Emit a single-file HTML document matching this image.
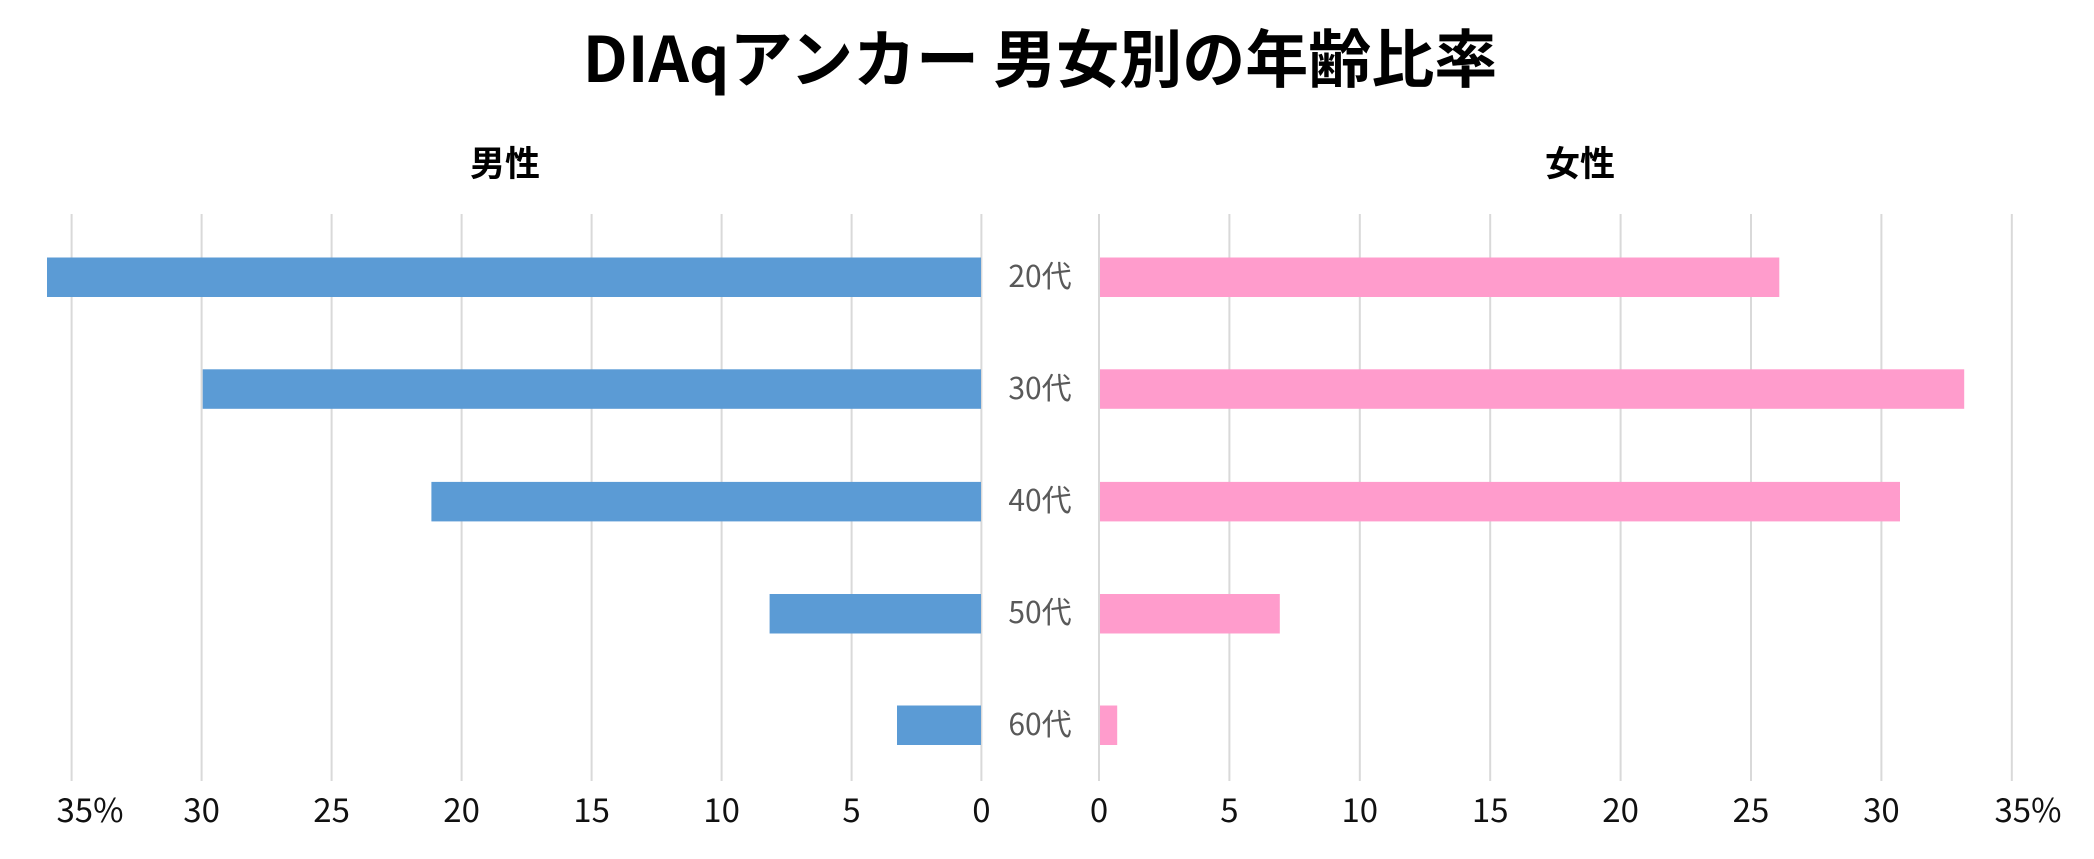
<!DOCTYPE html>
<html><head><meta charset="utf-8"><style>
html,body{margin:0;padding:0;background:#fff;}
svg{display:block;font-family:"Liberation Sans","Noto Sans CJK JP",sans-serif;}
</style></head><body>
<svg width="2094" height="859" viewBox="0 0 2094 859" xmlns="http://www.w3.org/2000/svg">
<rect width="2094" height="859" fill="#fff"/>
<text x="1040" y="82" text-anchor="middle" font-size="63" font-weight="bold" font-family="'Noto Sans CJK JP',sans-serif" fill="#000">DIAqアンカー 男女別の年齢比率</text>
<text x="505" y="176" text-anchor="middle" font-size="35" font-weight="bold" font-family="'Noto Sans CJK JP',sans-serif" fill="#000">男性</text>
<text x="1580" y="176" text-anchor="middle" font-size="35" font-weight="bold" font-family="'Noto Sans CJK JP',sans-serif" fill="#000">女性</text>
<g stroke="#d9d9d9" stroke-width="2">
<line x1="71.6" y1="214" x2="71.6" y2="781"/><line x1="201.6" y1="214" x2="201.6" y2="781"/><line x1="331.6" y1="214" x2="331.6" y2="781"/><line x1="461.6" y1="214" x2="461.6" y2="781"/><line x1="591.6" y1="214" x2="591.6" y2="781"/><line x1="721.6" y1="214" x2="721.6" y2="781"/><line x1="851.6" y1="214" x2="851.6" y2="781"/><line x1="981.4" y1="214" x2="981.4" y2="781"/>
<line x1="1099" y1="214" x2="1099" y2="781"/><line x1="1229.4" y1="214" x2="1229.4" y2="781"/><line x1="1359.8" y1="214" x2="1359.8" y2="781"/><line x1="1490.2" y1="214" x2="1490.2" y2="781"/><line x1="1620.6" y1="214" x2="1620.6" y2="781"/><line x1="1751" y1="214" x2="1751" y2="781"/><line x1="1881.4" y1="214" x2="1881.4" y2="781"/><line x1="2011.8" y1="214" x2="2011.8" y2="781"/>
</g>
<g fill="#5b9bd5">
<rect x="47" y="257.5" width="934" height="39.5"/>
<rect x="202.7" y="369.3" width="778.3" height="39.5"/>
<rect x="431.4" y="481.9" width="549.6" height="39.5"/>
<rect x="769.6" y="594" width="211.4" height="39.5"/>
<rect x="897" y="705.5" width="84" height="39.5"/>
</g>
<g fill="#ff9ccc">
<rect x="1100" y="257.5" width="679.3" height="39.5"/>
<rect x="1100" y="369.3" width="864.2" height="39.5"/>
<rect x="1100" y="481.9" width="800" height="39.5"/>
<rect x="1100" y="594" width="179.8" height="39.5"/>
<rect x="1100" y="705.5" width="17.2" height="39.5"/>
</g>
<g font-size="30" fill="#595959" text-anchor="middle" font-family="'Noto Sans CJK JP',sans-serif">
<text x="1040" y="287">20代</text>
<text x="1040" y="399">30代</text>
<text x="1040" y="511">40代</text>
<text x="1040" y="623">50代</text>
<text x="1040" y="735">60代</text>
</g>
<g font-size="33" fill="#111" text-anchor="middle" font-family="'Noto Sans CJK JP',sans-serif">
<text x="90" y="822">35%</text>
<text x="201.6" y="822">30</text><text x="331.6" y="822">25</text><text x="461.6" y="822">20</text><text x="591.6" y="822">15</text><text x="721.6" y="822">10</text><text x="851.6" y="822">5</text><text x="981.4" y="822">0</text>
<text x="1099" y="822">0</text><text x="1229.4" y="822">5</text><text x="1359.8" y="822">10</text><text x="1490.2" y="822">15</text><text x="1620.6" y="822">20</text><text x="1751" y="822">25</text><text x="1881.4" y="822">30</text><text x="2028" y="822">35%</text>
</g>
</svg>
</body></html>
